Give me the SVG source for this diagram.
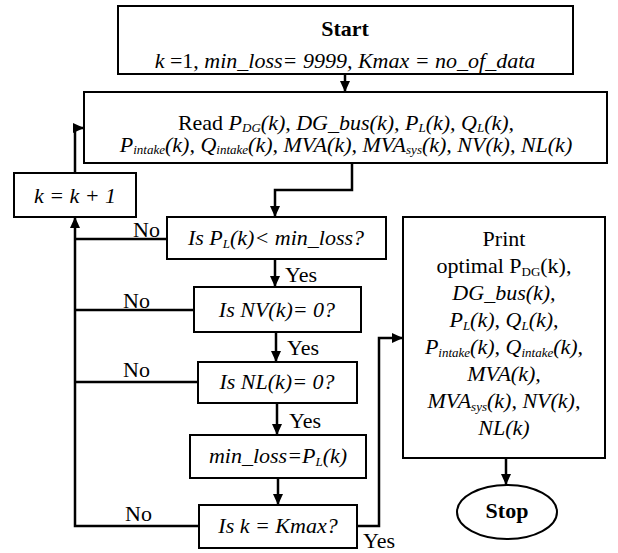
<svg xmlns="http://www.w3.org/2000/svg" width="618" height="553" viewBox="0 0 618 553">
<style>
.box{fill:#fff;stroke:#000;stroke-width:2}
.ln{fill:none;stroke:#000;stroke-width:2.5}
text{font-family:"Liberation Serif",serif;font-size:22px;fill:#000}
.c{text-anchor:middle}
.i{font-style:italic}
.b{font-weight:bold}
.s{font-size:13px}
</style>
<defs>
<marker id="ah" markerUnits="userSpaceOnUse" markerWidth="12" markerHeight="12" refX="11" refY="6" orient="auto">
<path d="M0,1 L11,6 L0,11 Z" fill="#000"/>
</marker>
</defs>
<g id="connectors">
<line class="ln" x1="345" y1="74" x2="345" y2="92" marker-end="url(#ah)"/>
<polyline class="ln" points="352,163 352,190 275,190 275,217" marker-end="url(#ah)"/>
<line class="ln" x1="275" y1="259" x2="275" y2="287" marker-end="url(#ah)"/>
<line class="ln" x1="276" y1="332" x2="276" y2="362" marker-end="url(#ah)"/>
<line class="ln" x1="277" y1="403" x2="277" y2="435" marker-end="url(#ah)"/>
<line class="ln" x1="278" y1="478" x2="278" y2="505" marker-end="url(#ah)"/>
<line class="ln" x1="167" y1="239" x2="76" y2="239"/>
<line class="ln" x1="194" y1="310" x2="76" y2="310"/>
<line class="ln" x1="198" y1="382" x2="76" y2="382"/>
<polyline class="ln" points="199,526 75,526 75,217" marker-end="url(#ah)"/>
<polyline class="ln" points="75,173 75,128 84,128" marker-end="url(#ah)"/>
<polyline class="ln" points="357,526 379,526 379,338 403,338" marker-end="url(#ah)"/>
<line class="ln" x1="506" y1="458" x2="506" y2="485" marker-end="url(#ah)"/>
<text x="133" y="237">No</text>
<text x="123" y="308">No</text>
<text x="123" y="377">No</text>
<text x="125" y="521">No</text>
<text x="285" y="282">Yes</text>
<text x="287" y="355">Yes</text>
<text x="289" y="428">Yes</text>
<text x="363" y="548">Yes</text>
</g>
<g id="start">
<rect class="box" x="118" y="6" width="455" height="68"/>
<text class="c b" x="345" y="36">Start</text>
<text class="c" x="345" y="68"><tspan class="i">k</tspan> =1, <tspan class="i">min_loss= 9999, Kmax = no_of_data</tspan></text>
</g>
<g id="read">
<rect class="box" x="84" y="92" width="523" height="71"/>
<text class="c" x="346" y="130">Read <tspan class="i">P<tspan class="s" dy="2">DG</tspan><tspan dy="-2">(k), DG_bus(k), P</tspan><tspan class="s" dy="2">L</tspan><tspan dy="-2">(k), Q</tspan><tspan class="s" dy="2">L</tspan><tspan dy="-2">(k),</tspan></tspan></text>
<text class="c i" x="346" y="152">P<tspan class="s" dy="2">intake</tspan><tspan dy="-2">(k), Q</tspan><tspan class="s" dy="2">intake</tspan><tspan dy="-2">(k), MVA(k), MVA</tspan><tspan class="s" dy="2">sys</tspan><tspan dy="-2">(k), NV(k), NL(k)</tspan></text>
</g>
<g id="increment">
<rect class="box" x="14" y="173" width="122" height="44"/>
<text class="c i" x="75" y="203">k = k + 1</text>
</g>
<g id="check-loss">
<rect class="box" x="167" y="217" width="219" height="42"/>
<text class="c i" x="276" y="245">Is P<tspan class="s" dy="3">L</tspan><tspan dy="-3">(k)&lt; min_loss?</tspan></text>
</g>
<g id="check-nv">
<rect class="box" x="194" y="287" width="167" height="45"/>
<text class="c i" x="277" y="317">Is NV(k)= 0?</text>
</g>
<g id="check-nl">
<rect class="box" x="198" y="362" width="159" height="41"/>
<text class="c i" x="277" y="389">Is NL(k)= 0?</text>
</g>
<g id="update">
<rect class="box" x="190" y="435" width="176" height="43"/>
<text class="c i" x="278" y="463">min_loss=P<tspan class="s" dy="3">L</tspan><tspan dy="-3">(k)</tspan></text>
</g>
<g id="check-kmax">
<rect class="box" x="199" y="505" width="158" height="43"/>
<text class="c i" x="278" y="533">Is k = Kmax?</text>
</g>
<g id="print">
<rect class="box" x="403" y="217" width="202" height="241"/>
<text class="c" x="504" y="246">Print</text>
<text class="c" x="504" y="273">optimal P<tspan class="s" dy="3">DG</tspan><tspan dy="-3">(k),</tspan></text>
<text class="c i" x="504" y="300">DG_bus(k),</text>
<text class="c i" x="504" y="327">P<tspan class="s" dy="3">L</tspan><tspan dy="-3">(k), Q</tspan><tspan class="s" dy="3">L</tspan><tspan dy="-3">(k),</tspan></text>
<text class="c i" x="504" y="354">P<tspan class="s" dy="3">intake</tspan><tspan dy="-3">(k), Q</tspan><tspan class="s" dy="3">intake</tspan><tspan dy="-3">(k),</tspan></text>
<text class="c i" x="504" y="381">MVA(k),</text>
<text class="c i" x="504" y="408">MVA<tspan class="s" dy="3">sys</tspan><tspan dy="-3">(k), NV(k),</tspan></text>
<text class="c i" x="504" y="435">NL(k)</text>
</g>
<g id="stop">
<ellipse class="box" cx="507" cy="512" rx="50" ry="27"/>
<text class="c b" x="507" y="518">Stop</text>
</g>
</svg>
